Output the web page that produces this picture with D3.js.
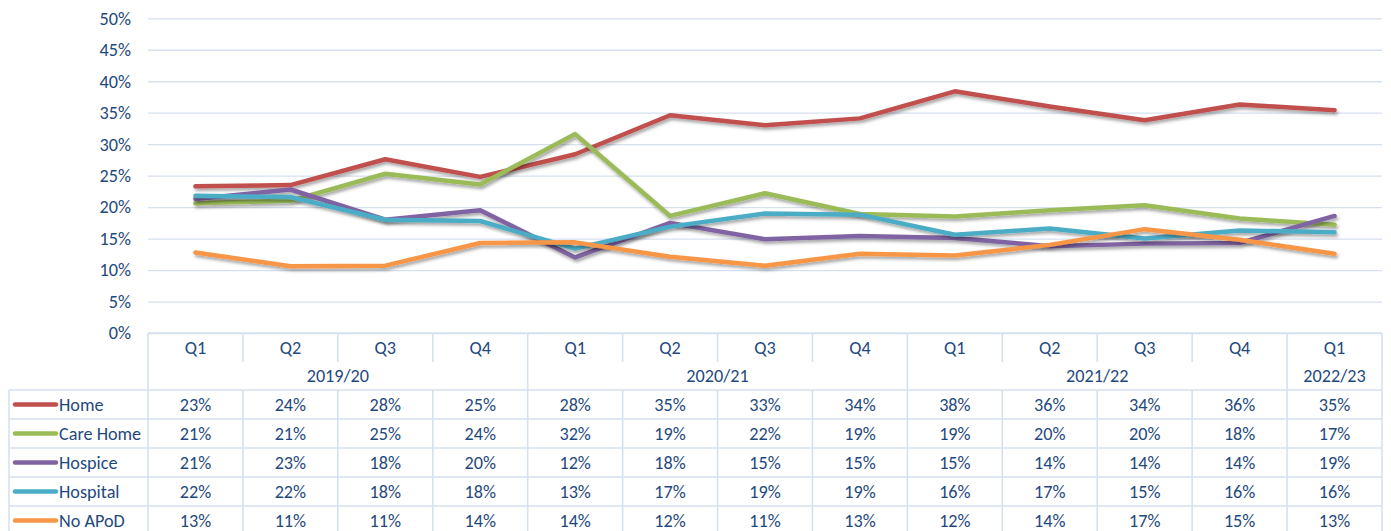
<!DOCTYPE html>
<html>
<head>
<meta charset="utf-8">
<script src="https://cdn.jsdelivr.net/npm/d3@7"></script>
<style>
  body { margin: 0; background: #fff; }
  svg { display: block; font-family: Carlito, "Liberation Sans", Arial, sans-serif; }
</style>
</head>
<body>
<svg id="chart" width="1391" height="531"></svg>
<script>
// quarters and financial years
const quarters = ['Q1', 'Q2', 'Q3', 'Q4', 'Q1', 'Q2', 'Q3', 'Q4', 'Q1', 'Q2', 'Q3', 'Q4', 'Q1'];
const years = [
  { label: '2019/20', start: 0, end: 4 },
  { label: '2020/21', start: 4, end: 8 },
  { label: '2021/22', start: 8, end: 12 },
  { label: '2022/23', start: 12, end: 13 },
];
const yTicks = [0, 5, 10, 15, 20, 25, 30, 35, 40, 45, 50];

// series values (percent)
const seriesNames = ['Home', 'Care Home', 'Hospice', 'Hospital', 'No APoD'];
const seriesColors = ['#C0504D', '#9BBB59', '#8064A2', '#4BACC6', '#F79646'];
const home = [23.3, 23.5, 27.6, 24.8, 28.4, 34.6, 33.0, 34.1, 38.4, 36.0, 33.8, 36.3, 35.4];
const careHome = [20.6, 21.0, 25.3, 23.6, 31.6, 18.6, 22.2, 18.9, 18.5, 19.5, 20.3, 18.2, 17.2];
const hospice = [21.3, 22.8, 18.0, 19.5, 12.0, 17.5, 14.9, 15.4, 15.1, 13.8, 14.2, 14.3, 18.6];
const hospital = [21.8, 21.6, 18.0, 17.8, 13.4, 16.9, 19.0, 18.8, 15.6, 16.6, 15.0, 16.3, 16.0];
const noApod = [12.8, 10.6, 10.7, 14.3, 14.4, 12.1, 10.7, 12.6, 12.3, 14.0, 16.5, 14.8, 12.6];
const allSeries = [home, careHome, hospice, hospital, noApod];

const textColor = '#1F497D';
const borderColor = '#d6e1f0';
const fontSize = '18.2px';

const svg = d3.select('#chart');
const plotLeft = 148, plotRight = 1382, plotTop = 18.3, plotBottom = 333;
const tableLeft = 9;
const qRowH = 29, yearRowH = 28, rowH = 29;

const x = d3.scaleBand().domain(d3.range(quarters.length)).range([plotLeft, plotRight]);
const y = d3.scaleLinear().domain([0, 50]).range([plotBottom, plotTop]);

// drop shadow for lines
const defs = svg.append('defs');
defs.append('filter')
  .attr('id', 'shadow')
  .attr('x', '-5%').attr('y', '-20%').attr('width', '110%').attr('height', '140%')
  .append('feDropShadow')
  .attr('dx', 1.5).attr('dy', 2.5).attr('stdDeviation', 1.6)
  .attr('flood-color', '#000').attr('flood-opacity', 0.35);

// y axis with gridlines
const yAxis = svg.append('g')
  .attr('transform', `translate(${plotLeft},0)`)
  .call(d3.axisLeft(y).tickValues(yTicks).tickSize(-(plotRight - plotLeft)).tickPadding(17)
    .tickFormat(d => d + '%'));
yAxis.select('.domain').remove();
yAxis.selectAll('.tick line').attr('stroke', borderColor).attr('stroke-width', 1.3);
yAxis.selectAll('.tick text')
  .attr('fill', textColor)
  .style('font-size', fontSize)
  .style('font-family', 'Carlito, "Liberation Sans", Arial, sans-serif');

// lines
const line = d3.line()
  .x((d, i) => x(i) + x.bandwidth() / 2)
  .y(d => y(d));

svg.append('g')
  .selectAll('path')
  .data(allSeries)
  .enter()
  .append('path')
  .attr('d', line)
  .attr('fill', 'none')
  .attr('stroke', (d, i) => seriesColors[i])
  .attr('stroke-width', 4.5)
  .attr('stroke-linejoin', 'round')
  .attr('stroke-linecap', 'round')
  .attr('filter', 'url(#shadow)');

// data table
const table = svg.append('g');
const qTop = plotBottom;
const yearTop = qTop + qRowH;
const dataTop = yearTop + yearRowH;
const dataBottom = dataTop + rowH * seriesNames.length;

const hline = (x1, x2, yy) => table.append('line')
  .attr('x1', x1).attr('x2', x2).attr('y1', yy).attr('y2', yy)
  .attr('stroke', borderColor).attr('stroke-width', 1.6);
const vline = (xx, y1, y2) => table.append('line')
  .attr('x1', xx).attr('x2', xx).attr('y1', y1).attr('y2', y2)
  .attr('stroke', borderColor).attr('stroke-width', 1.6);

hline(plotLeft, plotRight, qTop);
// quarter dividers (header only in quarter row)
d3.range(quarters.length + 1).forEach(i => {
  const xx = i < quarters.length ? x(i) : plotRight;
  vline(xx, qTop, yearTop);
  vline(xx, dataTop, dataBottom);
});
// year group borders
years.forEach(yr => vline(x(yr.start), yearTop, dataTop));
vline(plotRight, yearTop, dataTop);
// data rows
d3.range(seriesNames.length + 1).forEach(r => hline(tableLeft, plotRight, dataTop + r * rowH));
vline(tableLeft, dataTop, dataBottom);

// quarter labels
table.selectAll('.q')
  .data(quarters)
  .enter()
  .append('text')
  .attr('x', (d, i) => x(i) + x.bandwidth() / 2)
  .attr('y', qTop + qRowH / 2)
  .attr('dy', '0.35em')
  .attr('text-anchor', 'middle')
  .attr('font-size', fontSize)
  .attr('fill', textColor)
  .text(d => d);

// year labels
table.selectAll('.yr')
  .data(years)
  .enter()
  .append('text')
  .attr('x', d => (x(d.start) + (d.end < quarters.length ? x(d.end) : plotRight)) / 2)
  .attr('y', yearTop + yearRowH / 2)
  .attr('dy', '0.35em')
  .attr('text-anchor', 'middle')
  .attr('font-size', fontSize)
  .attr('fill', textColor)
  .text(d => d.label);

// rows: legend key + values
allSeries.forEach((vals, r) => {
  const cy = dataTop + r * rowH + rowH / 2;
  table.append('line')
    .attr('x1', 15).attr('x2', 56).attr('y1', cy).attr('y2', cy)
    .attr('stroke', seriesColors[r]).attr('stroke-width', 4.5)
    .attr('stroke-linecap', 'round');
  table.append('text')
    .attr('x', 59).attr('y', cy).attr('dy', '0.35em')
    .attr('font-size', fontSize).attr('fill', textColor)
    .text(seriesNames[r]);
  table.selectAll(null)
    .data(vals)
    .enter()
    .append('text')
    .attr('x', (d, i) => x(i) + x.bandwidth() / 2)
    .attr('y', cy)
    .attr('dy', '0.35em')
    .attr('text-anchor', 'middle')
    .attr('font-size', fontSize)
    .attr('fill', textColor)
    .text(d => Math.round(d) + '%');
});
</script>
</body>
</html>
